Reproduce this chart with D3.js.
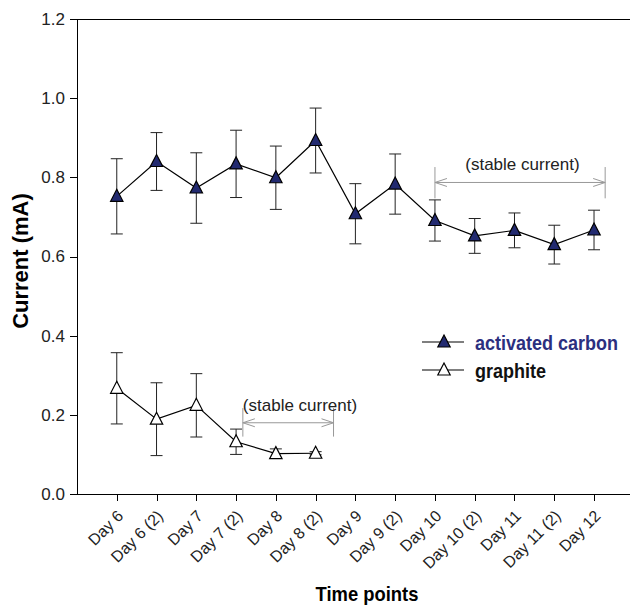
<!doctype html>
<html lang="en">
<head>
  <meta charset="utf-8">
  <title>Current over time points</title>
  <style>
body { margin: 0; background: #fff; }
svg { font-family: "Liberation Sans", Arial, sans-serif; }
.axis path, .axis line { fill: none; stroke: #000; shape-rendering: crispEdges; }
.axis text { font-size: 17px; fill: #222; }
.x.axis text { font-size: 16px; }
.note { stroke: #999; fill: none; }
  </style>
</head>
<body>
  <script src="https://d3js.org/d3.v7.min.js"></script>
  <script>
// time points on the x axis
var categories = ["Day 6", "Day 6 (2)", "Day 7", "Day 7 (2)", "Day 8", "Day 8 (2)",
  "Day 9", "Day 9 (2)", "Day 10", "Day 10 (2)", "Day 11", "Day 11 (2)", "Day 12"];

// activated carbon: mean and error
var carbonValues = [0.752, 0.840, 0.773, 0.834, 0.799, 0.893, 0.708, 0.783, 0.691, 0.652, 0.666, 0.630, 0.667];
var carbonErrors = [0.095, 0.073, 0.089, 0.085, 0.080, 0.082, 0.076, 0.076, 0.052, 0.044, 0.044, 0.049, 0.050];

// graphite: only the first six time points
var graphiteValues = [0.267, 0.189, 0.224, 0.132, 0.102, 0.103];
var graphiteErrors = [0.090, 0.092, 0.080, 0.032, 0.012, 0.004];

var yTicks = [0.0, 0.2, 0.4, 0.6, 0.8, 1.0, 1.2];

var width = 630, height = 608;

var svg = d3.select("body").append("svg")
    .attr("width", width)
    .attr("height", height);

// x is an index scale, one slot of padding either side (right side runs off the page)
var x = d3.scaleLinear()
    .domain([-1, 13])
    .range([77, 633.8]);
var y = d3.scaleLinear()
    .domain([0, 1.2])
    .range([494, 19]);

// frame top line
svg.append("line")
    .attr("x1", x(-1)).attr("x2", width)
    .attr("y1", y(1.2)).attr("y2", y(1.2))
    .attr("stroke", "#000")
    .attr("shape-rendering", "crispEdges");

var xAxis = d3.axisBottom(x)
    .tickValues(d3.range(categories.length))
    .tickFormat(function(i) { return categories[i]; })
    .tickSize(7)
    .tickSizeOuter(0);

var gx = svg.append("g")
    .attr("class", "x axis")
    .attr("transform", "translate(0," + y(0) + ")")
    .call(xAxis);
gx.select(".domain").attr("d", "M" + x(-1) + ",0.5H" + width);
gx.selectAll("text")
    .attr("text-anchor", "end")
    .attr("x", 0).attr("y", 0).attr("dy", 0)
    .attr("transform", "translate(7,23) rotate(-45)");

var yAxis = d3.axisLeft(y)
    .tickValues(yTicks)
    .tickFormat(d3.format(".1f"))
    .tickSize(7)
    .tickSizeOuter(0)
    .tickPadding(5);

svg.append("g")
    .attr("class", "y axis")
    .attr("transform", "translate(" + x(-1) + ",0)")
    .call(yAxis);

// axis titles (the original bold face is a little condensed)
svg.append("text")
    .attr("transform", "translate(367,601) scale(0.92,1)")
    .attr("text-anchor", "middle")
    .style("font-size", "20px")
    .style("font-weight", "bold")
    .text("Time points");

svg.append("text")
    .attr("transform", "translate(28,261) rotate(-90)")
    .attr("text-anchor", "middle")
    .style("font-size", "22px")
    .style("font-weight", "bold")
    .text("Current (mA)");

var tri = "M0,-7L6.2,5L-6.2,5Z";

function drawSeries(values, errors, fill) {
  var g = svg.append("g");
  var pts = values.map(function(v, i) { return {i: i, v: v, e: errors[i]}; });

  var err = g.selectAll(".err").data(pts).enter().append("g")
      .attr("stroke", "#222");
  err.append("line")
      .attr("x1", function(d) { return x(d.i); })
      .attr("x2", function(d) { return x(d.i); })
      .attr("y1", function(d) { return y(d.v + d.e); })
      .attr("y2", function(d) { return y(d.v - d.e); });
  err.append("line")
      .attr("x1", function(d) { return x(d.i) - 6; })
      .attr("x2", function(d) { return x(d.i) + 6; })
      .attr("y1", function(d) { return y(d.v + d.e); })
      .attr("y2", function(d) { return y(d.v + d.e); });
  err.append("line")
      .attr("x1", function(d) { return x(d.i) - 6; })
      .attr("x2", function(d) { return x(d.i) + 6; })
      .attr("y1", function(d) { return y(d.v - d.e); })
      .attr("y2", function(d) { return y(d.v - d.e); });

  g.append("path")
      .datum(pts)
      .attr("fill", "none")
      .attr("stroke", "#000")
      .attr("stroke-width", 1.2)
      .attr("d", d3.line()
        .x(function(d) { return x(d.i); })
        .y(function(d) { return y(d.v); }));

  g.selectAll(".mark").data(pts).enter().append("path")
      .attr("d", tri)
      .attr("transform", function(d) { return "translate(" + x(d.i) + "," + y(d.v) + ")"; })
      .attr("fill", fill)
      .attr("stroke", "#000")
      .attr("stroke-width", 1.2);
}

drawSeries(carbonValues, carbonErrors, "#222a70");
drawSeries(graphiteValues, graphiteErrors, "#fff");

// "(stable current)" range markers, positions in index / value units
function stableNote(i0, i1, v, vTop, vBottom, textX, anchor) {
  var g = svg.append("g");
  g.append("line").attr("class", "note")
      .attr("x1", x(i0)).attr("x2", x(i1))
      .attr("y1", y(v)).attr("y2", y(v));
  [i0, i1].forEach(function(i) {
    g.append("line").attr("class", "note")
        .attr("x1", x(i)).attr("x2", x(i))
        .attr("y1", y(vTop)).attr("y2", y(vBottom));
  });
  g.append("path").attr("class", "note")
      .attr("d", "M" + (x(i0) + 12) + "," + (y(v) - 4) + "L" + x(i0) + "," + y(v) + "L" + (x(i0) + 12) + "," + (y(v) + 4));
  g.append("path").attr("class", "note")
      .attr("d", "M" + (x(i1) - 12) + "," + (y(v) - 4) + "L" + x(i1) + "," + y(v) + "L" + (x(i1) - 12) + "," + (y(v) + 4));
  g.append("text")
      .attr("x", textX)
      .attr("y", y(vTop) + 3)
      .attr("text-anchor", anchor)
      .style("font-size", "17px")
      .attr("fill", "#222")
      .text("(stable current)");
}

stableNote(8, 12.28, 0.787, 0.826, 0.747, x(10.2), "middle");
stableNote(3.17, 5.45, 0.180, 0.217, 0.145, x(3.17), "start");

// legend
var legend = svg.append("g").attr("transform", "translate(422,342)");
var legendItems = [
  {name: "activated carbon", fill: "#222a70", color: "#2b2f7f"},
  {name: "graphite", fill: "#fff", color: "#111"}
];
var li = legend.selectAll("g").data(legendItems).enter().append("g")
    .attr("transform", function(d, i) { return "translate(0," + i * 28 + ")"; });
li.append("line")
    .attr("x1", 0).attr("x2", 42)
    .attr("stroke", "#000").attr("stroke-width", 1.2);
li.append("path")
    .attr("d", tri)
    .attr("transform", "translate(22,0)")
    .attr("fill", function(d) { return d.fill; })
    .attr("stroke", "#000").attr("stroke-width", 1.2);
li.append("text")
    .attr("transform", "translate(53,8) scale(0.9,1)")
    .style("font-size", "20px")
    .style("font-weight", "bold")
    .attr("fill", function(d) { return d.color; })
    .text(function(d) { return d.name; });
  </script>
</body>
</html>
